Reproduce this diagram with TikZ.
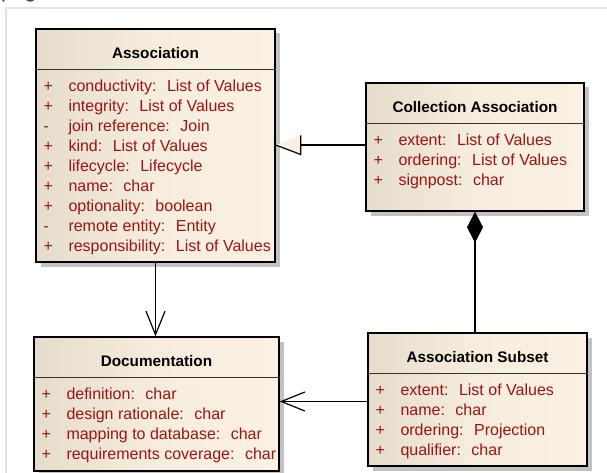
\documentclass[tikz,border=0pt]{standalone}
\usepackage{fontspec}
\setmainfont{Liberation Sans}
\usetikzlibrary{calc,shadows,arrows.meta}

\definecolor{boxleft}{HTML}{E6DCCB}
\definecolor{boxmid}{HTML}{F7EDDE}
\definecolor{boxright}{HTML}{FBF1E3}
\definecolor{attrred}{HTML}{9A1414}
\definecolor{shadowgray}{HTML}{C2C2C2}
\definecolor{framegray}{HTML}{E2E2E2}
\definecolor{genfill}{HTML}{FAF0E2}

\tikzset{
  classbox/.style={draw=black, line width=1.4pt, inner sep=0pt,
    left color=boxleft, right color=boxright, middle color=boxmid,
    drop shadow={shadow xshift=4.5pt, shadow yshift=-4.5pt,
      fill=shadowgray, opacity=1}},
  classtitle/.style={anchor=base, inner sep=0pt,
    font=\fontsize{15.3}{18}\selectfont\bfseries},
  visib/.style={anchor=base west, inner sep=0pt, text=attrred,
    font=\fontsize{16}{18}\selectfont},
  attr/.style={anchor=base west, inner sep=0pt, text=attrred,
    font=\fontsize{16}{18}\selectfont},
  sepline/.style={draw=black!80, line width=1.2pt},
  conn/.style={draw=black, line width=1.2pt},
  frameline/.style={draw=framegray, line width=1.4pt},
  pkgtag/.style={anchor=base west, inner sep=0pt, text=black!75,
    font=\fontsize{22}{24}\selectfont},
}

% gap between an attribute name and its type
\newcommand\tsep{\hspace{10.5pt}}

% title, compartment line and attribute rows of a class box
\newcommand\umlclass[3]{%
  \node[classtitle] (#1-title) at ($(#1.north)+(0,30)$) {#2};
  \draw[sepline] ($(#1.north west)+(0,41)$) -- ($(#1.north east)+(0,41)$);
  \foreach \vis/\txt [count=\k] in {#3}{%
    \node[visib] (#1-vis\k) at ($(#1.north west)+(8,{43+20*\k})$) {\vis};
    \node[attr] (#1-att\k) at ($(#1.north west)+(33,{43+20*\k})$) {\txt};
  }}

\begin{document}
\begin{tikzpicture}[x=1pt,y=-1pt]
\useasboundingbox (0,0) rectangle (607,473);

% package frame
\draw[frameline] (6,473) -- (6,8) -- (607,8);
\node[pkgtag] (pkg) at (1,-2) {pkg};

% classes
\node[classbox, minimum width=239pt, minimum height=233pt] (assoc) at (155.5,145.5) {};
\umlclass{assoc}{Association}{%
  +/conductivity:\tsep List of Values,
  +/integrity:\tsep List of Values,
  -/join reference:\tsep Join,
  +/kind:\tsep List of Values,
  +/lifecycle:\tsep Lifecycle,
  +/name:\tsep char,
  +/optionality:\tsep boolean,
  -/remote entity:\tsep Entity,
  +/responsibility:\tsep List of Values}

\node[classbox, minimum width=218pt, minimum height=128pt] (coll) at (475,147) {};
\umlclass{coll}{Collection Association}{%
  +/extent:\tsep List of Values,
  +/ordering:\tsep List of Values,
  +/signpost:\tsep char}

\node[classbox, minimum width=245pt, minimum height=134pt] (doc) at (156.5,404) {};
\umlclass{doc}{Documentation}{%
  +/definition:\tsep char,
  +/design rationale:\tsep char,
  +/mapping to database:\tsep char,
  +/requirements coverage:\tsep char}

\node[classbox, minimum width=219pt, minimum height=133pt] (subset) at (477.5,399.5) {};
\umlclass{subset}{Association Subset}{%
  +/extent:\tsep List of Values,
  +/name:\tsep char,
  +/ordering:\tsep Projection,
  +/qualifier:\tsep char}

% generalization: Collection Association -> Association
\coordinate (gstart) at ([yshift=2pt]coll.west);
\coordinate (gtip) at (gstart -| assoc.east);
\fill[genfill] (gtip) -- ++(25,-9.5) -- ++(0,19) -- cycle;
\draw[conn] (gstart) -- ($(gtip)+(25,0)$);
\draw[conn, line join=miter] (gtip) -- ++(25,9.5) -- ++(0,-19);

% composition: Collection Association <>- Association Subset
\draw[conn, {Diamond[length=31pt,width=16pt,fill=black]}-] (coll.south) -- (coll.south |- subset.north);

% directed associations to Documentation
\draw[conn, -{Straight Barb[length=23.5pt,width=19pt]}] (assoc.south) -- (assoc.south |- doc.north);
\coordinate (sstart) at ([yshift=-2pt]subset.west);
\draw[conn, -{Straight Barb[length=23.5pt,width=19pt]}] (sstart) -- (sstart -| doc.east);
\end{tikzpicture}
\end{document}
